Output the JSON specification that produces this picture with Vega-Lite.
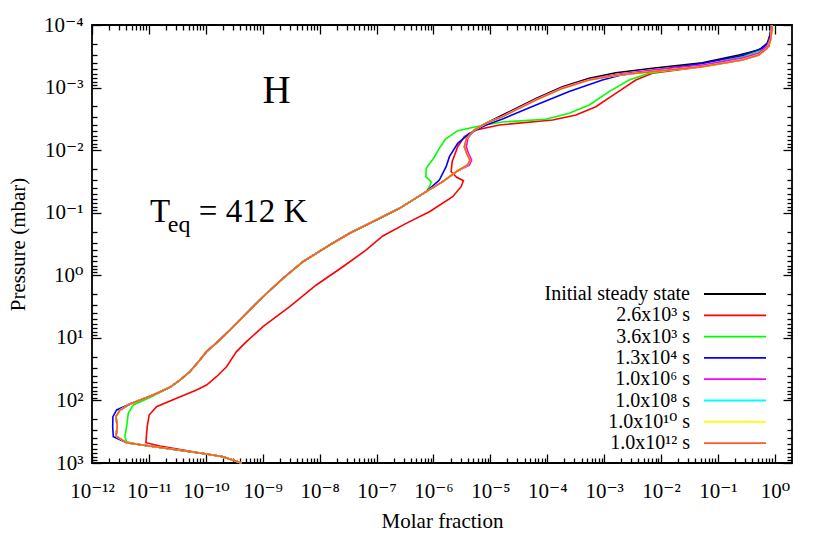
{
 "$schema": "https://vega.github.io/schema/vega-lite/v6.json",
 "width": 700,
 "height": 438,
 "autosize": {"type": "none"},
 "padding": {"left": 92, "top": 25, "right": 38, "bottom": 71},
 "background": "white",
 "config": {
  "font": "Liberation Serif, DejaVu Serif",
  "view": {"stroke": "black", "strokeWidth": 1.8},
  "axis": {"grid": false, "domain": false, "tickColor": "black", "tickWidth": 1.3, "labelColor": "black", "titleColor": "black", "labelFont": "Liberation Serif, DejaVu Serif", "titleFont": "Liberation Serif, DejaVu Serif", "titleFontWeight": "normal", "labelFontSize": 21, "titleFontSize": 21, "labelFlush": false, "labelOverlap": false, "labelBound": false}
 },
 "datasets": {
  "curves": [
   {"s":"Initial steady state","x":4.23e-10,"p":1000},{"s":"Initial steady state","x":2.01e-10,"p":792},{"s":"Initial steady state","x":1.03e-10,"p":718},{"s":"Initial steady state","x":4.06e-12,"p":474},{"s":"Initial steady state","x":2.64e-12,"p":371},{"s":"Initial steady state","x":2.78e-12,"p":263},{"s":"Initial steady state","x":2.64e-12,"p":182},{"s":"Initial steady state","x":3.1e-12,"p":142},{"s":"Initial steady state","x":4.64e-12,"p":114},{"s":"Initial steady state","x":1.19e-11,"p":81.9},{"s":"Initial steady state","x":2.34e-11,"p":61.7},{"s":"Initial steady state","x":3.5e-11,"p":47.2},{"s":"Initial steady state","x":5.24e-11,"p":34.8},{"s":"Initial steady state","x":7.85e-11,"p":22.6},{"s":"Initial steady state","x":1.03e-10,"p":16.6},{"s":"Initial steady state","x":1.54e-10,"p":12.0},{"s":"Initial steady state","x":2.64e-10,"p":7.5},{"s":"Initial steady state","x":5.18e-10,"p":4.05},{"s":"Initial steady state","x":1.01e-9,"p":2.2},{"s":"Initial steady state","x":2.27e-9,"p":1.12},{"s":"Initial steady state","x":5.09e-9,"p":0.607},{"s":"Initial steady state","x":1.5e-8,"p":0.328},{"s":"Initial steady state","x":3.36e-8,"p":0.213},{"s":"Initial steady state","x":9.89e-8,"p":0.131},{"s":"Initial steady state","x":2.54e-7,"p":0.0851},{"s":"Initial steady state","x":7.45e-7,"p":0.0461},{"s":"Initial steady state","x":1.46e-6,"p":0.0319},{"s":"Initial steady state","x":2.64e-6,"p":0.0215},{"s":"Initial steady state","x":4.0e-6,"p":0.0173},{"s":"Initial steady state","x":4.4e-6,"p":0.0144},{"s":"Initial steady state","x":3.84e-6,"p":0.0112},{"s":"Initial steady state","x":3.5e-6,"p":0.00881},{"s":"Initial steady state","x":3.84e-6,"p":0.00647},{"s":"Initial steady state","x":5.24e-6,"p":0.00476},{"s":"Initial steady state","x":8.41e-6,"p":0.00372},{"s":"Initial steady state","x":1.64e-5,"p":0.00274},{"s":"Initial steady state","x":6.34e-5,"p":0.00149},{"s":"Initial steady state","x":1.85e-4,"p":0.000968},{"s":"Initial steady state","x":5.46e-4,"p":0.000711},{"s":"Initial steady state","x":1.6e-3,"p":0.000578},{"s":"Initial steady state","x":7.03e-3,"p":0.000492},{"s":"Initial steady state","x":0.0531,"p":0.000401},{"s":"Initial steady state","x":0.233,"p":0.000301},{"s":"Initial steady state","x":0.524,"p":0.000251},{"s":"Initial steady state","x":0.733,"p":0.000196},{"s":"Initial steady state","x":0.841,"p":0.000136},{"s":"Initial steady state","x":0.875,"p":0.0001},

   {"s":"2.6x10³ s","x":4.23e-10,"p":1000},{"s":"2.6x10³ s","x":2.01e-10,"p":792},{"s":"2.6x10³ s","x":1.03e-10,"p":718},{"s":"2.6x10³ s","x":1.56e-11,"p":535},{"s":"2.6x10³ s","x":8.85e-12,"p":474},{"s":"2.6x10³ s","x":9.33e-12,"p":263},{"s":"2.6x10³ s","x":1.01e-11,"p":171},{"s":"2.6x10³ s","x":1.36e-11,"p":126},{"s":"2.6x10³ s","x":3.06e-11,"p":92.5},{"s":"2.6x10³ s","x":6.87e-11,"p":68.1},{"s":"2.6x10³ s","x":1.03e-10,"p":56.7},{"s":"2.6x10³ s","x":1.54e-10,"p":41.8},{"s":"2.6x10³ s","x":2.31e-10,"p":28.9},{"s":"2.6x10³ s","x":3.46e-10,"p":16.6},{"s":"2.6x10³ s","x":5.18e-10,"p":11.5},{"s":"2.6x10³ s","x":1.01e-9,"p":6.64},{"s":"2.6x10³ s","x":2.98e-9,"p":3.18},{"s":"2.6x10³ s","x":8.75e-9,"p":1.43},{"s":"2.6x10³ s","x":2.56e-8,"p":0.73},{"s":"2.6x10³ s","x":6.59e-8,"p":0.394},{"s":"2.6x10³ s","x":1.29e-7,"p":0.235},{"s":"2.6x10³ s","x":3.32e-7,"p":0.148},{"s":"2.6x10³ s","x":8.51e-7,"p":0.0964},{"s":"2.6x10³ s","x":2.18e-6,"p":0.0555},{"s":"2.6x10³ s","x":3.06e-6,"p":0.0384},{"s":"2.6x10³ s","x":3.36e-6,"p":0.0308},{"s":"2.6x10³ s","x":2.56e-6,"p":0.0272},{"s":"2.6x10³ s","x":2.05e-6,"p":0.0221},{"s":"2.6x10³ s","x":2.13e-6,"p":0.0153},{"s":"2.6x10³ s","x":2.67e-6,"p":0.00881},{"s":"2.6x10³ s","x":3.5e-6,"p":0.00609},{"s":"2.6x10³ s","x":5.61e-6,"p":0.00476},{"s":"2.6x10³ s","x":1.44e-5,"p":0.00396},{"s":"2.6x10³ s","x":1.24e-4,"p":0.0033},{"s":"2.6x10³ s","x":3.19e-4,"p":0.00274},{"s":"2.6x10³ s","x":7.14e-4,"p":0.00202},{"s":"2.6x10³ s","x":1.6e-3,"p":0.00124},{"s":"2.6x10³ s","x":3.6e-3,"p":0.000757},{"s":"2.6x10³ s","x":7.03e-3,"p":0.000591},{"s":"2.6x10³ s","x":0.0531,"p":0.000463},{"s":"2.6x10³ s","x":0.267,"p":0.000362},{"s":"2.6x10³ s","x":0.524,"p":0.000301},{"s":"2.6x10³ s","x":0.785,"p":0.000222},{"s":"2.6x10³ s","x":0.875,"p":0.000136},{"s":"2.6x10³ s","x":0.88,"p":0.0001},

   {"s":"3.6x10³ s","x":4.23e-10,"p":1000},{"s":"3.6x10³ s","x":2.01e-10,"p":792},{"s":"3.6x10³ s","x":1.03e-10,"p":718},{"s":"3.6x10³ s","x":6.95e-12,"p":508},{"s":"3.6x10³ s","x":4.06e-12,"p":457},{"s":"3.6x10³ s","x":3.79e-12,"p":380},{"s":"3.6x10³ s","x":4.06e-12,"p":263},{"s":"3.6x10³ s","x":4.34e-12,"p":161},{"s":"3.6x10³ s","x":5.31e-12,"p":118},{"s":"3.6x10³ s","x":1.11e-11,"p":87.3},{"s":"3.6x10³ s","x":2.34e-11,"p":61.7},{"s":"3.6x10³ s","x":3.5e-11,"p":47.2},{"s":"3.6x10³ s","x":5.24e-11,"p":34.8},{"s":"3.6x10³ s","x":7.85e-11,"p":22.6},{"s":"3.6x10³ s","x":1.03e-10,"p":16.6},{"s":"3.6x10³ s","x":1.54e-10,"p":12.0},{"s":"3.6x10³ s","x":2.64e-10,"p":7.5},{"s":"3.6x10³ s","x":5.18e-10,"p":4.05},{"s":"3.6x10³ s","x":1.01e-9,"p":2.2},{"s":"3.6x10³ s","x":2.27e-9,"p":1.12},{"s":"3.6x10³ s","x":5.09e-9,"p":0.607},{"s":"3.6x10³ s","x":1.5e-8,"p":0.328},{"s":"3.6x10³ s","x":3.36e-8,"p":0.213},{"s":"3.6x10³ s","x":9.89e-8,"p":0.131},{"s":"3.6x10³ s","x":2.54e-7,"p":0.0851},{"s":"3.6x10³ s","x":7.45e-7,"p":0.0461},{"s":"3.6x10³ s","x":8.51e-7,"p":0.0384},{"s":"3.6x10³ s","x":9.12e-7,"p":0.0323},{"s":"3.6x10³ s","x":7.38e-7,"p":0.0265},{"s":"3.6x10³ s","x":7.45e-7,"p":0.0195},{"s":"3.6x10³ s","x":1.0e-6,"p":0.0136},{"s":"3.6x10³ s","x":1.27e-6,"p":0.00935},{"s":"3.6x10³ s","x":1.63e-6,"p":0.00664},{"s":"3.6x10³ s","x":2.67e-6,"p":0.00489},{"s":"3.6x10³ s","x":6.41e-6,"p":0.00411},{"s":"3.6x10³ s","x":1.64e-5,"p":0.00355},{"s":"3.6x10³ s","x":9.48e-5,"p":0.00321},{"s":"3.6x10³ s","x":2.43e-4,"p":0.00258},{"s":"3.6x10³ s","x":5.46e-4,"p":0.0019},{"s":"3.6x10³ s","x":1.22e-3,"p":0.00116},{"s":"3.6x10³ s","x":2.75e-3,"p":0.000757},{"s":"3.6x10³ s","x":6.15e-3,"p":0.000591},{"s":"3.6x10³ s","x":0.0531,"p":0.000452},{"s":"3.6x10³ s","x":0.267,"p":0.000321},{"s":"3.6x10³ s","x":0.598,"p":0.000251},{"s":"3.6x10³ s","x":0.785,"p":0.000185},{"s":"3.6x10³ s","x":0.86,"p":0.00012},{"s":"3.6x10³ s","x":0.875,"p":0.0001},

   {"s":"1.3x10⁴ s","x":4.23e-10,"p":1000},{"s":"1.3x10⁴ s","x":2.01e-10,"p":792},{"s":"1.3x10⁴ s","x":1.03e-10,"p":718},{"s":"1.3x10⁴ s","x":4.06e-12,"p":474},{"s":"1.3x10⁴ s","x":2.37e-12,"p":380},{"s":"1.3x10⁴ s","x":2.31e-12,"p":263},{"s":"1.3x10⁴ s","x":2.33e-12,"p":182},{"s":"1.3x10⁴ s","x":2.71e-12,"p":142},{"s":"1.3x10⁴ s","x":4.64e-12,"p":114},{"s":"1.3x10⁴ s","x":1.19e-11,"p":81.9},{"s":"1.3x10⁴ s","x":2.34e-11,"p":61.7},{"s":"1.3x10⁴ s","x":3.5e-11,"p":47.2},{"s":"1.3x10⁴ s","x":5.24e-11,"p":34.8},{"s":"1.3x10⁴ s","x":7.85e-11,"p":22.6},{"s":"1.3x10⁴ s","x":1.03e-10,"p":16.6},{"s":"1.3x10⁴ s","x":1.54e-10,"p":12.0},{"s":"1.3x10⁴ s","x":2.64e-10,"p":7.5},{"s":"1.3x10⁴ s","x":5.18e-10,"p":4.05},{"s":"1.3x10⁴ s","x":1.01e-9,"p":2.2},{"s":"1.3x10⁴ s","x":2.27e-9,"p":1.12},{"s":"1.3x10⁴ s","x":5.09e-9,"p":0.607},{"s":"1.3x10⁴ s","x":1.5e-8,"p":0.328},{"s":"1.3x10⁴ s","x":3.36e-8,"p":0.213},{"s":"1.3x10⁴ s","x":9.89e-8,"p":0.131},{"s":"1.3x10⁴ s","x":2.54e-7,"p":0.0851},{"s":"1.3x10⁴ s","x":7.45e-7,"p":0.0461},{"s":"1.3x10⁴ s","x":1.27e-6,"p":0.03},{"s":"1.3x10⁴ s","x":1.67e-6,"p":0.0184},{"s":"1.3x10⁴ s","x":1.91e-6,"p":0.0127},{"s":"1.3x10⁴ s","x":2.67e-6,"p":0.00778},{"s":"1.3x10⁴ s","x":4.29e-6,"p":0.00538},{"s":"1.3x10⁴ s","x":8.41e-6,"p":0.00396},{"s":"1.3x10⁴ s","x":1.64e-5,"p":0.00318},{"s":"1.3x10⁴ s","x":6.34e-5,"p":0.0019},{"s":"1.3x10⁴ s","x":2.43e-4,"p":0.00116},{"s":"1.3x10⁴ s","x":9.33e-4,"p":0.000757},{"s":"1.3x10⁴ s","x":1.83e-3,"p":0.000641},{"s":"1.3x10⁴ s","x":7.03e-3,"p":0.000533},{"s":"1.3x10⁴ s","x":0.0531,"p":0.000412},{"s":"1.3x10⁴ s","x":0.267,"p":0.000307},{"s":"1.3x10⁴ s","x":0.598,"p":0.000235},{"s":"1.3x10⁴ s","x":0.785,"p":0.000185},{"s":"1.3x10⁴ s","x":0.841,"p":0.00012},{"s":"1.3x10⁴ s","x":0.875,"p":0.0001},

   {"s":"1.0x10⁶ s","x":4.23e-10,"p":1000},{"s":"1.0x10⁶ s","x":2.01e-10,"p":792},{"s":"1.0x10⁶ s","x":1.03e-10,"p":718},{"s":"1.0x10⁶ s","x":4.06e-12,"p":474},{"s":"1.0x10⁶ s","x":2.64e-12,"p":371},{"s":"1.0x10⁶ s","x":2.78e-12,"p":263},{"s":"1.0x10⁶ s","x":2.64e-12,"p":182},{"s":"1.0x10⁶ s","x":3.1e-12,"p":142},{"s":"1.0x10⁶ s","x":4.64e-12,"p":114},{"s":"1.0x10⁶ s","x":1.19e-11,"p":81.9},{"s":"1.0x10⁶ s","x":2.34e-11,"p":61.7},{"s":"1.0x10⁶ s","x":3.5e-11,"p":47.2},{"s":"1.0x10⁶ s","x":5.24e-11,"p":34.8},{"s":"1.0x10⁶ s","x":7.85e-11,"p":22.6},{"s":"1.0x10⁶ s","x":1.03e-10,"p":16.6},{"s":"1.0x10⁶ s","x":1.54e-10,"p":12.0},{"s":"1.0x10⁶ s","x":2.64e-10,"p":7.5},{"s":"1.0x10⁶ s","x":5.18e-10,"p":4.05},{"s":"1.0x10⁶ s","x":1.01e-9,"p":2.2},{"s":"1.0x10⁶ s","x":2.27e-9,"p":1.12},{"s":"1.0x10⁶ s","x":5.09e-9,"p":0.607},{"s":"1.0x10⁶ s","x":1.5e-8,"p":0.328},{"s":"1.0x10⁶ s","x":3.36e-8,"p":0.213},{"s":"1.0x10⁶ s","x":9.89e-8,"p":0.131},{"s":"1.0x10⁶ s","x":2.54e-7,"p":0.0851},{"s":"1.0x10⁶ s","x":7.45e-7,"p":0.0461},{"s":"1.0x10⁶ s","x":1.46e-6,"p":0.0319},{"s":"1.0x10⁶ s","x":2.64e-6,"p":0.0215},{"s":"1.0x10⁶ s","x":4.29e-6,"p":0.0173},{"s":"1.0x10⁶ s","x":4.7e-6,"p":0.0144},{"s":"1.0x10⁶ s","x":4.11e-6,"p":0.0112},{"s":"1.0x10⁶ s","x":3.79e-6,"p":0.00881},{"s":"1.0x10⁶ s","x":4.03e-6,"p":0.00647},{"s":"1.0x10⁶ s","x":5.24e-6,"p":0.00476},{"s":"1.0x10⁶ s","x":8.41e-6,"p":0.00372},{"s":"1.0x10⁶ s","x":1.64e-5,"p":0.00284},{"s":"1.0x10⁶ s","x":6.34e-5,"p":0.00153},{"s":"1.0x10⁶ s","x":1.85e-4,"p":0.000997},{"s":"1.0x10⁶ s","x":5.46e-4,"p":0.000734},{"s":"1.0x10⁶ s","x":1.83e-3,"p":0.000607},{"s":"1.0x10⁶ s","x":7.03e-3,"p":0.000524},{"s":"1.0x10⁶ s","x":0.0531,"p":0.000435},{"s":"1.0x10⁶ s","x":0.267,"p":0.000337},{"s":"1.0x10⁶ s","x":0.524,"p":0.000281},{"s":"1.0x10⁶ s","x":0.733,"p":0.000217},{"s":"1.0x10⁶ s","x":0.841,"p":0.000156},{"s":"1.0x10⁶ s","x":0.875,"p":0.0001},

   {"s":"1.0x10⁸ s","x":4.23e-10,"p":1000},{"s":"1.0x10⁸ s","x":2.01e-10,"p":792},{"s":"1.0x10⁸ s","x":1.03e-10,"p":718},{"s":"1.0x10⁸ s","x":4.06e-12,"p":474},{"s":"1.0x10⁸ s","x":2.64e-12,"p":371},{"s":"1.0x10⁸ s","x":2.78e-12,"p":263},{"s":"1.0x10⁸ s","x":2.64e-12,"p":182},{"s":"1.0x10⁸ s","x":3.1e-12,"p":142},{"s":"1.0x10⁸ s","x":4.64e-12,"p":114},{"s":"1.0x10⁸ s","x":1.19e-11,"p":81.9},{"s":"1.0x10⁸ s","x":2.34e-11,"p":61.7},{"s":"1.0x10⁸ s","x":3.5e-11,"p":47.2},{"s":"1.0x10⁸ s","x":5.24e-11,"p":34.8},{"s":"1.0x10⁸ s","x":7.85e-11,"p":22.6},{"s":"1.0x10⁸ s","x":1.03e-10,"p":16.6},{"s":"1.0x10⁸ s","x":1.54e-10,"p":12.0},{"s":"1.0x10⁸ s","x":2.64e-10,"p":7.5},{"s":"1.0x10⁸ s","x":5.18e-10,"p":4.05},{"s":"1.0x10⁸ s","x":1.01e-9,"p":2.2},{"s":"1.0x10⁸ s","x":2.27e-9,"p":1.12},{"s":"1.0x10⁸ s","x":5.09e-9,"p":0.607},{"s":"1.0x10⁸ s","x":1.5e-8,"p":0.328},{"s":"1.0x10⁸ s","x":3.36e-8,"p":0.213},{"s":"1.0x10⁸ s","x":9.89e-8,"p":0.131},{"s":"1.0x10⁸ s","x":2.54e-7,"p":0.0851},{"s":"1.0x10⁸ s","x":7.45e-7,"p":0.0461},{"s":"1.0x10⁸ s","x":1.46e-6,"p":0.0319},{"s":"1.0x10⁸ s","x":2.64e-6,"p":0.0215},{"s":"1.0x10⁸ s","x":4.0e-6,"p":0.0173},{"s":"1.0x10⁸ s","x":4.4e-6,"p":0.0144},{"s":"1.0x10⁸ s","x":3.84e-6,"p":0.0112},{"s":"1.0x10⁸ s","x":3.5e-6,"p":0.00881},{"s":"1.0x10⁸ s","x":3.84e-6,"p":0.00647},{"s":"1.0x10⁸ s","x":5.24e-6,"p":0.00476},{"s":"1.0x10⁸ s","x":8.41e-6,"p":0.00372},{"s":"1.0x10⁸ s","x":1.64e-5,"p":0.00292},{"s":"1.0x10⁸ s","x":6.34e-5,"p":0.00158},{"s":"1.0x10⁸ s","x":1.85e-4,"p":0.00103},{"s":"1.0x10⁸ s","x":5.46e-4,"p":0.000757},{"s":"1.0x10⁸ s","x":1.83e-3,"p":0.00063},{"s":"1.0x10⁸ s","x":7.03e-3,"p":0.000557},{"s":"1.0x10⁸ s","x":0.0531,"p":0.000463},{"s":"1.0x10⁸ s","x":0.267,"p":0.000362},{"s":"1.0x10⁸ s","x":0.524,"p":0.000301},{"s":"1.0x10⁸ s","x":0.733,"p":0.000235},{"s":"1.0x10⁸ s","x":0.841,"p":0.000174},{"s":"1.0x10⁸ s","x":0.875,"p":0.00012},{"s":"1.0x10⁸ s","x":0.88,"p":0.0001},

   {"s":"1.0x10¹⁰ s","x":4.23e-10,"p":1000},{"s":"1.0x10¹⁰ s","x":2.01e-10,"p":792},{"s":"1.0x10¹⁰ s","x":1.03e-10,"p":718},{"s":"1.0x10¹⁰ s","x":4.06e-12,"p":474},{"s":"1.0x10¹⁰ s","x":2.64e-12,"p":371},{"s":"1.0x10¹⁰ s","x":2.78e-12,"p":263},{"s":"1.0x10¹⁰ s","x":2.64e-12,"p":182},{"s":"1.0x10¹⁰ s","x":3.1e-12,"p":142},{"s":"1.0x10¹⁰ s","x":4.64e-12,"p":114},{"s":"1.0x10¹⁰ s","x":1.19e-11,"p":81.9},{"s":"1.0x10¹⁰ s","x":2.34e-11,"p":61.7},{"s":"1.0x10¹⁰ s","x":3.5e-11,"p":47.2},{"s":"1.0x10¹⁰ s","x":5.24e-11,"p":34.8},{"s":"1.0x10¹⁰ s","x":7.85e-11,"p":22.6},{"s":"1.0x10¹⁰ s","x":1.03e-10,"p":16.6},{"s":"1.0x10¹⁰ s","x":1.54e-10,"p":12.0},{"s":"1.0x10¹⁰ s","x":2.64e-10,"p":7.5},{"s":"1.0x10¹⁰ s","x":5.18e-10,"p":4.05},{"s":"1.0x10¹⁰ s","x":1.01e-9,"p":2.2},{"s":"1.0x10¹⁰ s","x":2.27e-9,"p":1.12},{"s":"1.0x10¹⁰ s","x":5.09e-9,"p":0.607},{"s":"1.0x10¹⁰ s","x":1.5e-8,"p":0.328},{"s":"1.0x10¹⁰ s","x":3.36e-8,"p":0.213},{"s":"1.0x10¹⁰ s","x":9.89e-8,"p":0.131},{"s":"1.0x10¹⁰ s","x":2.54e-7,"p":0.0851},{"s":"1.0x10¹⁰ s","x":7.45e-7,"p":0.0461},{"s":"1.0x10¹⁰ s","x":1.46e-6,"p":0.0319},{"s":"1.0x10¹⁰ s","x":2.64e-6,"p":0.0215},{"s":"1.0x10¹⁰ s","x":4.0e-6,"p":0.0173},{"s":"1.0x10¹⁰ s","x":4.4e-6,"p":0.0144},{"s":"1.0x10¹⁰ s","x":3.84e-6,"p":0.0112},{"s":"1.0x10¹⁰ s","x":3.5e-6,"p":0.00881},{"s":"1.0x10¹⁰ s","x":3.84e-6,"p":0.00647},{"s":"1.0x10¹⁰ s","x":5.24e-6,"p":0.00476},{"s":"1.0x10¹⁰ s","x":8.41e-6,"p":0.00372},{"s":"1.0x10¹⁰ s","x":1.64e-5,"p":0.00292},{"s":"1.0x10¹⁰ s","x":6.34e-5,"p":0.00158},{"s":"1.0x10¹⁰ s","x":1.85e-4,"p":0.00103},{"s":"1.0x10¹⁰ s","x":5.46e-4,"p":0.000757},{"s":"1.0x10¹⁰ s","x":1.83e-3,"p":0.00063},{"s":"1.0x10¹⁰ s","x":7.03e-3,"p":0.000557},{"s":"1.0x10¹⁰ s","x":0.0531,"p":0.000463},{"s":"1.0x10¹⁰ s","x":0.267,"p":0.000362},{"s":"1.0x10¹⁰ s","x":0.524,"p":0.000301},{"s":"1.0x10¹⁰ s","x":0.733,"p":0.000235},{"s":"1.0x10¹⁰ s","x":0.841,"p":0.000174},{"s":"1.0x10¹⁰ s","x":0.875,"p":0.00012},{"s":"1.0x10¹⁰ s","x":0.88,"p":0.0001},

   {"s":"1.0x10¹² s","x":4.23e-10,"p":1000},{"s":"1.0x10¹² s","x":2.01e-10,"p":792},{"s":"1.0x10¹² s","x":1.03e-10,"p":718},{"s":"1.0x10¹² s","x":4.06e-12,"p":474},{"s":"1.0x10¹² s","x":2.64e-12,"p":371},{"s":"1.0x10¹² s","x":2.78e-12,"p":263},{"s":"1.0x10¹² s","x":2.64e-12,"p":182},{"s":"1.0x10¹² s","x":3.1e-12,"p":142},{"s":"1.0x10¹² s","x":4.64e-12,"p":114},{"s":"1.0x10¹² s","x":1.19e-11,"p":81.9},{"s":"1.0x10¹² s","x":2.34e-11,"p":61.7},{"s":"1.0x10¹² s","x":3.5e-11,"p":47.2},{"s":"1.0x10¹² s","x":5.24e-11,"p":34.8},{"s":"1.0x10¹² s","x":7.85e-11,"p":22.6},{"s":"1.0x10¹² s","x":1.03e-10,"p":16.6},{"s":"1.0x10¹² s","x":1.54e-10,"p":12.0},{"s":"1.0x10¹² s","x":2.64e-10,"p":7.5},{"s":"1.0x10¹² s","x":5.18e-10,"p":4.05},{"s":"1.0x10¹² s","x":1.01e-9,"p":2.2},{"s":"1.0x10¹² s","x":2.27e-9,"p":1.12},{"s":"1.0x10¹² s","x":5.09e-9,"p":0.607},{"s":"1.0x10¹² s","x":1.5e-8,"p":0.328},{"s":"1.0x10¹² s","x":3.36e-8,"p":0.213},{"s":"1.0x10¹² s","x":9.89e-8,"p":0.131},{"s":"1.0x10¹² s","x":2.54e-7,"p":0.0851},{"s":"1.0x10¹² s","x":7.45e-7,"p":0.0461},{"s":"1.0x10¹² s","x":1.46e-6,"p":0.0319},{"s":"1.0x10¹² s","x":2.64e-6,"p":0.0215},{"s":"1.0x10¹² s","x":4.0e-6,"p":0.0173},{"s":"1.0x10¹² s","x":4.4e-6,"p":0.0144},{"s":"1.0x10¹² s","x":3.84e-6,"p":0.0112},{"s":"1.0x10¹² s","x":3.5e-6,"p":0.00881},{"s":"1.0x10¹² s","x":3.84e-6,"p":0.00647},{"s":"1.0x10¹² s","x":5.24e-6,"p":0.00476},{"s":"1.0x10¹² s","x":8.41e-6,"p":0.00372},{"s":"1.0x10¹² s","x":1.64e-5,"p":0.00292},{"s":"1.0x10¹² s","x":6.34e-5,"p":0.00158},{"s":"1.0x10¹² s","x":1.85e-4,"p":0.00103},{"s":"1.0x10¹² s","x":5.46e-4,"p":0.000757},{"s":"1.0x10¹² s","x":1.83e-3,"p":0.00063},{"s":"1.0x10¹² s","x":7.03e-3,"p":0.000557},{"s":"1.0x10¹² s","x":0.0531,"p":0.000463},{"s":"1.0x10¹² s","x":0.267,"p":0.000362},{"s":"1.0x10¹² s","x":0.524,"p":0.000301},{"s":"1.0x10¹² s","x":0.733,"p":0.000235},{"s":"1.0x10¹² s","x":0.841,"p":0.000174},{"s":"1.0x10¹² s","x":0.875,"p":0.00012},{"s":"1.0x10¹² s","x":0.88,"p":0.0001}
  ]
 },
 "resolve": {"axis": {"x": "independent", "y": "independent"}},
 "layer": [
  {
   "data": {"name": "curves"},
   "mark": {"type": "line", "strokeWidth": 1.6},
   "encoding": {
    "x": {"field": "x", "type": "quantitative",
     "scale": {"type": "log", "domain": [1e-12, 2], "nice": false},
     "axis": {"orient": "bottom", "values": [1e-12,1e-11,1e-10,1e-9,1e-8,1e-7,1e-6,1e-5,1e-4,0.001,0.01,0.1,1], "tickSize": -9, "labelPadding": 26, "labelBaseline": "top",
      "labelExpr": "'10' + (datum.value < 3e-12 ? '⁻¹²' : datum.value < 3e-11 ? '⁻¹¹' : datum.value < 3e-10 ? '⁻¹⁰' : datum.value < 3e-9 ? '⁻⁹' : datum.value < 3e-8 ? '⁻⁸' : datum.value < 3e-7 ? '⁻⁷' : datum.value < 3e-6 ? '⁻⁶' : datum.value < 3e-5 ? '⁻⁵' : datum.value < 3e-4 ? '⁻⁴' : datum.value < 3e-3 ? '⁻³' : datum.value < 0.03 ? '⁻²' : datum.value < 0.3 ? '⁻¹' : datum.value < 3 ? '⁰' : datum.value < 30 ? '¹' : datum.value < 300 ? '²' : '³')",
      "title": "Molar fraction", "titleY": 64, "titleBaseline": "alphabetic"}},
    "y": {"field": "p", "type": "quantitative",
     "scale": {"type": "log", "domain": [0.0001, 1000], "reverse": true, "nice": false},
     "axis": {"orient": "left", "values": [0.0001,0.001,0.01,0.1,1,10,100,1000], "tickSize": -9, "labelPadding": 18, "labelBaseline": "middle",
      "labelExpr": "'10' + (datum.value < 3e-12 ? '⁻¹²' : datum.value < 3e-11 ? '⁻¹¹' : datum.value < 3e-10 ? '⁻¹⁰' : datum.value < 3e-9 ? '⁻⁹' : datum.value < 3e-8 ? '⁻⁸' : datum.value < 3e-7 ? '⁻⁷' : datum.value < 3e-6 ? '⁻⁶' : datum.value < 3e-5 ? '⁻⁵' : datum.value < 3e-4 ? '⁻⁴' : datum.value < 3e-3 ? '⁻³' : datum.value < 0.03 ? '⁻²' : datum.value < 0.3 ? '⁻¹' : datum.value < 3 ? '⁰' : datum.value < 30 ? '¹' : datum.value < 300 ? '²' : '³')",
      "title": "Pressure (mbar)", "titleAngle": -90, "titleX": -74, "titleY": 219, "titleAlign": "center", "titleBaseline": "middle"}},
    "color": {"field": "s", "type": "nominal",
     "scale": {"domain": ["Initial steady state","2.6x10³ s","3.6x10³ s","1.3x10⁴ s","1.0x10⁶ s","1.0x10⁸ s","1.0x10¹⁰ s","1.0x10¹² s"],
               "range": ["#000000","#ff0000","#00ff00","#0000ff","#ff00ff","#00ffff","#ffff00","#ff5a1f"]},
     "legend": {"title": null, "orient": "none", "legendX": 633, "legendY": 259, "padding": 0, "symbolType": "M-6.2,0H6.2", "symbolSize": 100, "symbolStrokeWidth": 1.8, "symbolOffset": 0, "labelAlign": "right", "labelOffset": -55, "labelFontSize": 20, "labelFont": "Liberation Serif, DejaVu Serif", "labelColor": "black", "labelLimit": 400, "rowPadding": 1.3}},
    "order": {"field": "p", "type": "quantitative"}
   }
  },
  {
   "data": {"values": [{"t": "H", "x": 1.76e-9, "p": 0.00177}]},
   "mark": {"type": "text", "fontSize": 39, "align": "center", "baseline": "alphabetic", "font": "Liberation Serif", "color": "black"},
   "encoding": {
    "x": {"field": "x", "type": "quantitative", "scale": {"type": "log", "domain": [1e-12, 2], "nice": false},
     "axis": {"orient": "top", "values": [1e-12,1e-11,1e-10,1e-9,1e-8,1e-7,1e-6,1e-5,1e-4,0.001,0.01,0.1,1], "tickSize": -9, "labels": false, "title": null}},
    "y": {"field": "p", "type": "quantitative", "scale": {"type": "log", "domain": [0.0001, 1000], "reverse": true, "nice": false},
     "axis": {"orient": "right", "values": [0.0001,0.001,0.01,0.1,1,10,100,1000], "tickSize": -9, "labels": false, "title": null}},
    "text": {"field": "t"}
   }
  },
  {
   "data": {"values": [{"t": "T", "x": 1.04e-11, "p": 0.141}, {"t": "= 412 K", "x": 7.54e-11, "p": 0.141}]},
   "mark": {"type": "text", "fontSize": 33, "align": "left", "baseline": "alphabetic", "font": "Liberation Serif", "color": "black"},
   "encoding": {
    "x": {"field": "x", "type": "quantitative", "scale": {"type": "log", "domain": [1e-12, 2], "nice": false},
     "axis": {"orient": "bottom", "values": [2e-12,3e-12,4e-12,5e-12,6e-12,7e-12,8e-12,9e-12,2e-11,3e-11,4e-11,5e-11,6e-11,7e-11,8e-11,9e-11,2e-10,3e-10,4e-10,5e-10,6e-10,7e-10,8e-10,9e-10,2e-9,3e-9,4e-9,5e-9,6e-9,7e-9,8e-9,9e-9,2e-8,3e-8,4e-8,5e-8,6e-8,7e-8,8e-8,9e-8,2e-7,3e-7,4e-7,5e-7,6e-7,7e-7,8e-7,9e-7,2e-6,3e-6,4e-6,5e-6,6e-6,7e-6,8e-6,9e-6,2e-5,3e-5,4e-5,5e-5,6e-5,7e-5,8e-5,9e-5,2e-4,3e-4,4e-4,5e-4,6e-4,7e-4,8e-4,9e-4,0.002,0.003,0.004,0.005,0.006,0.007,0.008,0.009,0.02,0.03,0.04,0.05,0.06,0.07,0.08,0.09,0.2,0.3,0.4,0.5,0.6,0.7,0.8,0.9], "tickSize": -5, "labels": false, "title": null}},
    "y": {"field": "p", "type": "quantitative", "scale": {"type": "log", "domain": [0.0001, 1000], "reverse": true, "nice": false},
     "axis": {"orient": "left", "values": [0.0002,0.0003,0.0004,0.0005,0.0006,0.0007,0.0008,0.0009,0.002,0.003,0.004,0.005,0.006,0.007,0.008,0.009,0.02,0.03,0.04,0.05,0.06,0.07,0.08,0.09,0.2,0.3,0.4,0.5,0.6,0.7,0.8,0.9,2,3,4,5,6,7,8,9,20,30,40,50,60,70,80,90,200,300,400,500,600,700,800,900], "tickSize": -5, "labels": false, "title": null}},
    "text": {"field": "t"}
   }
  },
  {
   "data": {"values": [{"t": "eq", "x": 2.15e-11, "p": 0.203}]},
   "mark": {"type": "text", "fontSize": 24, "align": "left", "baseline": "alphabetic", "font": "Liberation Serif", "color": "black"},
   "encoding": {
    "x": {"field": "x", "type": "quantitative", "scale": {"type": "log", "domain": [1e-12, 2], "nice": false},
     "axis": {"orient": "top", "values": [2e-12,3e-12,4e-12,5e-12,6e-12,7e-12,8e-12,9e-12,2e-11,3e-11,4e-11,5e-11,6e-11,7e-11,8e-11,9e-11,2e-10,3e-10,4e-10,5e-10,6e-10,7e-10,8e-10,9e-10,2e-9,3e-9,4e-9,5e-9,6e-9,7e-9,8e-9,9e-9,2e-8,3e-8,4e-8,5e-8,6e-8,7e-8,8e-8,9e-8,2e-7,3e-7,4e-7,5e-7,6e-7,7e-7,8e-7,9e-7,2e-6,3e-6,4e-6,5e-6,6e-6,7e-6,8e-6,9e-6,2e-5,3e-5,4e-5,5e-5,6e-5,7e-5,8e-5,9e-5,2e-4,3e-4,4e-4,5e-4,6e-4,7e-4,8e-4,9e-4,0.002,0.003,0.004,0.005,0.006,0.007,0.008,0.009,0.02,0.03,0.04,0.05,0.06,0.07,0.08,0.09,0.2,0.3,0.4,0.5,0.6,0.7,0.8,0.9], "tickSize": -5, "labels": false, "title": null}},
    "y": {"field": "p", "type": "quantitative", "scale": {"type": "log", "domain": [0.0001, 1000], "reverse": true, "nice": false},
     "axis": {"orient": "right", "values": [0.0002,0.0003,0.0004,0.0005,0.0006,0.0007,0.0008,0.0009,0.002,0.003,0.004,0.005,0.006,0.007,0.008,0.009,0.02,0.03,0.04,0.05,0.06,0.07,0.08,0.09,0.2,0.3,0.4,0.5,0.6,0.7,0.8,0.9,2,3,4,5,6,7,8,9,20,30,40,50,60,70,80,90,200,300,400,500,600,700,800,900], "tickSize": -5, "labels": false, "title": null}},
    "text": {"field": "t"}
   }
  }
 ]
}
